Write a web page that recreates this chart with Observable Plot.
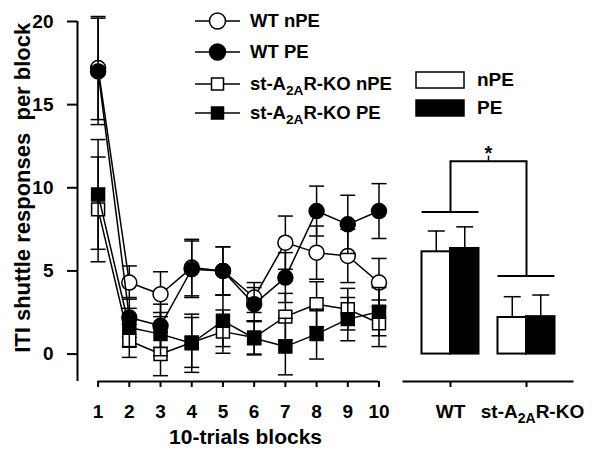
<!DOCTYPE html>
<html>
<head>
<meta charset="utf-8">
<script src="https://cdn.jsdelivr.net/npm/d3@7"></script>
<script src="https://cdn.jsdelivr.net/npm/@observablehq/plot@0.6"></script>
<style>
  html, body { margin: 0; padding: 0; background: #fff; }
  #chart { position: relative; width: 600px; height: 454px; overflow: hidden;
           font-family: "Liberation Sans", Arial, sans-serif; font-weight: bold; color: #000; }
  #left { position: absolute; left: 0; top: 0; }
  #right { position: absolute; left: 400px; top: 0; }
  .leg { position: absolute; display: flex; align-items: center; white-space: nowrap; height: 24px; }
  .leg svg { display: block; }
  .leg sub { font-size: 0.74em; vertical-align: -0.38em; line-height: 0; }
</style>
</head>
<body>
<div id="chart">
  <div id="left"></div>
  <div id="right"></div>
</div>
<script>
// ---------- data ----------
const blocks = [1, 2, 3, 4, 5, 6, 7, 8, 9, 10];
const wtNPEMean = [17.2, 4.3, 3.6, 5.2, 5.0, 3.4, 6.7, 6.1, 5.9, 4.3];
const wtNPESem  = [3.1, 1.0, 1.35, 1.7, 1.45, 0.9, 1.6, 1.6, 1.6, 1.45];
const wtPEMean  = [17.0, 2.2, 1.7, 5.1, 5.0, 3.0, 4.6, 8.6, 7.8, 8.6];
const wtPESem   = [3.2, 1.2, 1.3, 1.7, 1.45, 1.0, 1.5, 1.5, 1.75, 1.65];
const koNPEMean = [8.7, 0.8, 0.0, 0.7, 1.35, 1.0, 2.25, 3.0, 2.7, 1.85];
const koNPESem  = [3.15, 1.0, 1.3, 1.5, 1.3, 1.0, 1.4, 1.35, 1.25, 1.4];
const koPEMean  = [9.6, 1.6, 1.2, 0.65, 2.0, 0.95, 0.45, 1.2, 2.1, 2.55];
const koPESem   = [3.3, 1.15, 1.3, 1.75, 1.55, 1.0, 1.7, 1.5, 1.3, 1.45];
const seriesLabels = ["WT nPE", "WT PE", "st-A2AR-KO nPE", "st-A2AR-KO PE"];

const yTicks = [0, 5, 10, 15, 20];
const yLabel = "ITI shuttle responses  per block";
const xLabel = "10-trials blocks";

const groups = ["WT", "st-A2AR-KO"];
const conditions = ["nPE", "PE"];
const barNPEMean = [6.15, 2.2];
const barNPESem  = [1.25, 1.25];
const barPEMean  = [6.35, 2.25];
const barPESem   = [1.3, 1.3];
const bracketLevels = [8.55, 4.7];
const bracketTop = 11.6;
const sigLabel = "*";

// ---------- styles / layout ----------
const FONT = '"Liberation Sans", Arial, sans-serif';
const seriesStyle = [
  {symbol: "circle", fill: "white", r: 7.5},
  {symbol: "circle", fill: "black", r: 7.5},
  {symbol: "square", fill: "white", r: 7.3},
  {symbol: "square", fill: "black", r: 7.3}
];
const yDomain = [-1.65, 20];
const xMin = 0.34;
const H = 454, MT = 21, MB = 73;
const capSymbol = {draw(ctx, size) { const w = Math.sqrt(size / Math.PI); ctx.moveTo(-w, 0); ctx.lineTo(w, 0); }};
const LW = 1.5;

// ---------- left panel ----------
const means = [wtNPEMean, wtPEMean, koNPEMean, koPEMean];
const sems = [wtNPESem, wtPESem, koNPESem, koPESem];
const seriesRows = seriesLabels.map((label, s) =>
  blocks.map((b, i) => ({series: label, block: b, mean: means[s][i], sem: sems[s][i]})));

const leftMarks = [
  Plot.ruleX([xMin], {y1: yDomain[0], y2: yDomain[1], strokeWidth: 2}),
  Plot.ruleY([yDomain[0]], {x1: blocks[0], x2: blocks[blocks.length - 1], strokeWidth: 2}),
  Plot.axisY({ticks: yTicks, tickSize: 10, tickPadding: 14, strokeWidth: 2, label: null, fontSize: 19}),
  Plot.axisX({ticks: blocks, tickSize: 6, tickPadding: 17, strokeWidth: 2, label: null, fontSize: 19}),
  Plot.text([yLabel], {frameAnchor: "left", textAnchor: "middle", y: d3.mean(yTicks), rotate: -90, dx: -55, fontSize: 22}),
  Plot.text([xLabel], {x: d3.mean(blocks), y: yDomain[0], dy: 56, dx: 7, fontSize: 21})
];
seriesRows.forEach((data, s) => {
  const st = seriesStyle[s];
  leftMarks.push(
    Plot.line(data, {x: "block", y: "mean", stroke: "black", strokeWidth: LW}),
    Plot.ruleX(data, {x: "block", y1: d => d.mean - d.sem, y2: d => d.mean + d.sem, stroke: "black", strokeWidth: LW}),
    Plot.dot(data, {x: "block", y: d => d.mean - d.sem, symbol: capSymbol, r: 7.5, stroke: "black", strokeWidth: LW}),
    Plot.dot(data, {x: "block", y: d => d.mean + d.sem, symbol: capSymbol, r: 7.5, stroke: "black", strokeWidth: LW}),
    Plot.dot(data, {x: "block", y: "mean", symbol: st.symbol, r: st.r, fill: st.fill, stroke: "black", strokeWidth: LW})
  );
});

const left = Plot.plot({
  width: 400, height: H, marginLeft: 77, marginRight: 21.5, marginTop: MT, marginBottom: MB,
  x: {domain: [xMin, blocks[blocks.length - 1]]},
  y: {domain: yDomain},
  style: {fontFamily: FONT, fontWeight: "bold", fontSize: "19px", background: "transparent", color: "black", overflow: "visible"},
  marks: leftMarks
});
document.getElementById("left").appendChild(left);

// ---------- right panel ----------
const RW = 200, RML = 2.5, RMR = 26.5, PAD = 0.25;
const step = (RW - RML - RMR) / (groups.length - PAD + 2 * PAD);
const bw = step * (1 - PAD);
const barRows = groups.flatMap((g, i) => [
  {group: g, condition: conditions[0], mean: barNPEMean[i], sem: barNPESem[i]},
  {group: g, condition: conditions[1], mean: barPEMean[i], sem: barPESem[i]}
]);
const nPE = barRows.filter(d => d.condition === "nPE");
const PE = barRows.filter(d => d.condition === "PE");
const bracketRows = groups.map((g, i) => ({group: g, level: bracketLevels[i]}));

const right = Plot.plot({
  width: RW, height: H, marginLeft: RML, marginRight: RMR, marginTop: MT, marginBottom: MB,
  x: {type: "band", domain: groups, paddingInner: PAD, paddingOuter: PAD, align: 0.5, round: false},
  y: {domain: yDomain, axis: null},
  style: {fontFamily: FONT, fontWeight: "bold", fontSize: "19px", background: "transparent", color: "black", overflow: "visible"},
  marks: [
    Plot.ruleY([yDomain[0]], {strokeWidth: 2}),
    Plot.axisX({tickSize: 6, tickPadding: 17, strokeWidth: 2, label: null, fontSize: 19}),
    Plot.barY(nPE, {x: "group", y: "mean", fill: "white", stroke: "black", strokeWidth: 2, insetRight: bw / 2}),
    Plot.barY(PE, {x: "group", y: "mean", fill: "black", stroke: "black", strokeWidth: 2, insetLeft: bw / 2}),
    Plot.ruleX(nPE, {x: "group", y1: "mean", y2: d => d.mean + d.sem, strokeWidth: LW, dx: -bw / 4}),
    Plot.dot(nPE, {x: "group", y: d => d.mean + d.sem, symbol: capSymbol, r: 8.5, stroke: "black", strokeWidth: LW, dx: -bw / 4}),
    Plot.ruleX(PE, {x: "group", y1: "mean", y2: d => d.mean + d.sem, strokeWidth: LW, dx: bw / 4}),
    Plot.dot(PE, {x: "group", y: d => d.mean + d.sem, symbol: capSymbol, r: 8.5, stroke: "black", strokeWidth: LW, dx: bw / 4}),
    Plot.tickY(bracketRows, {x: "group", y: "level", strokeWidth: 2}),
    Plot.ruleX(bracketRows, {x: "group", y1: "level", y2: bracketTop, strokeWidth: 2}),
    Plot.line(groups.map(g => ({group: g, y: bracketTop})), {x: "group", y: "y", strokeWidth: 2}),
    Plot.ruleX([bracketTop], {x: null, y1: bracketTop, y2: bracketTop + 0.3, strokeWidth: 1.5}),
    Plot.text([sigLabel], {x: null, y: bracketTop + 0.45, fontSize: 20})
  ]
});
document.getElementById("right").appendChild(right);

// subscript in the KO tick label
d3.select(right).selectAll("text").each(function () {
  if (this.textContent === "st-A2AR-KO") {
    const t = d3.select(this);
    t.text(null);
    t.append("tspan").text("st-A");
    t.append("tspan").attr("dy", 5).attr("font-size", 14).text("2A");
    t.append("tspan").attr("dy", -5).text("R-KO");
    t.attr("dx", 6);
  }
});

// ---------- legends (HTML) ----------
const chart = document.getElementById("chart");
const legendRowY = [21, 52, 84, 113];
seriesLabels.forEach((label, s) => {
  const st = seriesStyle[s];
  const row = document.createElement("div");
  row.className = "leg";
  row.style.left = "195px";
  row.style.top = (legendRowY[s] - 12) + "px";
  row.style.fontSize = "18.5px";
  const sym = st.symbol === "circle"
    ? `<circle cx="22.5" cy="12" r="8" fill="${st.fill}" stroke="black" stroke-width="1.5"/>`
    : `<rect x="16.5" y="6" width="12" height="12" fill="${st.fill}" stroke="black" stroke-width="1.5"/>`;
  row.innerHTML = `<svg width="45" height="24"><line x1="0" x2="45" y1="12" y2="12" stroke="black" stroke-width="1.5"/>${sym}</svg>` +
    `<span style="margin-left:10px">${label.replace("A2AR", "A<sub>2A</sub>R")}</span>`;
  chart.appendChild(row);
});
const barLegendY = [80, 108];
conditions.forEach((c, i) => {
  const row = document.createElement("div");
  row.className = "leg";
  row.style.left = "415px";
  row.style.top = (barLegendY[i] - 12) + "px";
  row.style.fontSize = "19px";
  row.innerHTML = `<svg width="50" height="24"><rect x="1" y="4" width="48" height="16" fill="${i ? "black" : "white"}" stroke="black" stroke-width="1.5"/></svg>` +
    `<span style="margin-left:12px">${c}</span>`;
  chart.appendChild(row);
});
</script>
</body>
</html>
